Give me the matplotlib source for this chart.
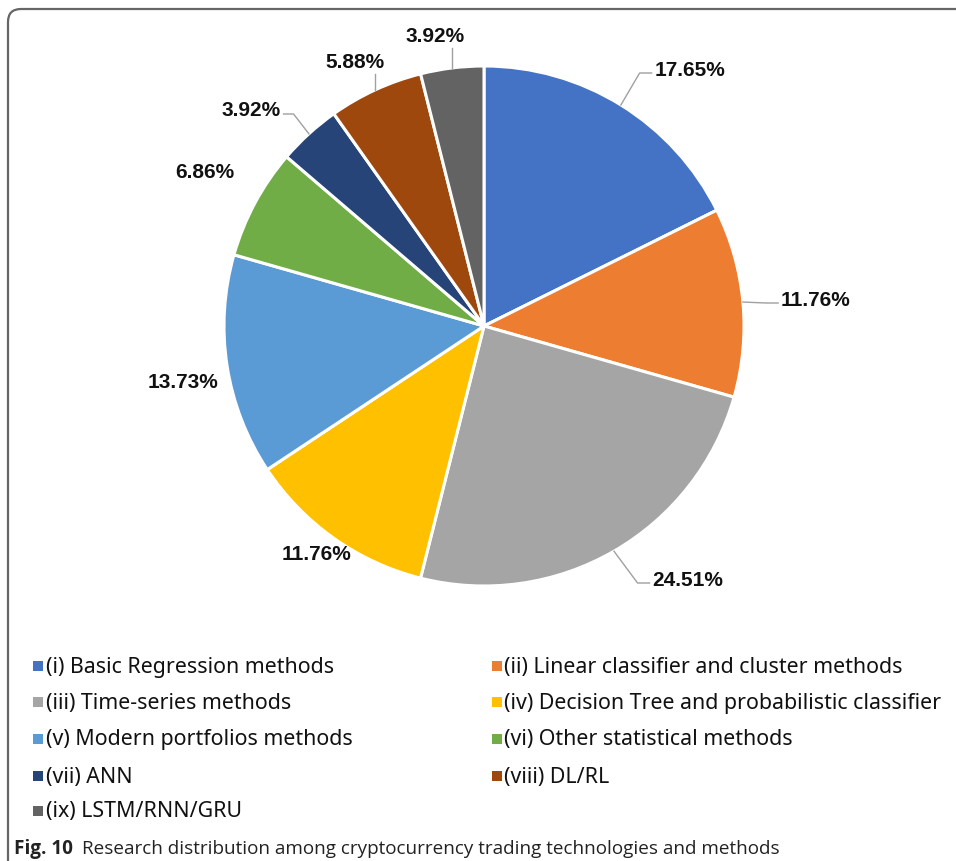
import matplotlib.pyplot as plt
from matplotlib.patches import FancyBboxPatch, Rectangle
import numpy as np

# data
methods = ['(i) Basic Regression methods', '(ii) Linear classifier and cluster methods',
           '(iii) Time-series methods', '(iv) Decision Tree and probabilistic classifier',
           '(v) Modern portfolios methods', '(vi) Other statistical methods',
           '(vii) ANN', '(viii) DL/RL', '(ix) LSTM/RNN/GRU']
shares = [17.65, 11.76, 24.51, 11.76, 13.73, 6.86, 3.92, 5.88, 3.92]
colours = ['#4472C4', '#ED7D31', '#A5A5A5', '#FFC000', '#5B9BD5',
           '#70AD47', '#264478', '#9E480E', '#636363']
caption_bold = 'Fig. 10'
caption_text = 'Research distribution among cryptocurrency trading technologies and methods'

# layout (pixels in the 956x862 picture)
W, H = 956, 862
CX, CY, R = 484, 327, 260
label_px = [(690, 70), (816, 300), (688, 580), (316, 555), (183, 382),
            (205, 173), (251, 111), (355, 63), (435, 37)]
leader = ['side', 'side', 'side', None, None, None, 'side', 'below', 'below']
legend_rows = [667, 703, 740, 777, 812]
legend_cols = [(38, 46), (497, 504)]


def to_data(px, py):
    return (px - CX) / R, (CY - py) / R


fig = plt.figure(figsize=(W / 100, H / 100), dpi=100)
ax = fig.add_axes([0, 0, 1, 1])

wedges, _ = ax.pie(shares, colors=colours, startangle=90, counterclock=False, radius=1,
                   wedgeprops=dict(edgecolor='white', linewidth=2.2))
ax.set_aspect('auto')
ax.set_xlim(to_data(0, 0)[0], to_data(W, 0)[0])
ax.set_ylim(to_data(0, H)[1], to_data(0, 0)[1])
ax.axis('off')

# frame round the figure
x0, y0 = to_data(8, 10)
x1, y1 = to_data(990, 880)
ax.add_patch(FancyBboxPatch((x0, y1), x1 - x0, y0 - y1, boxstyle='round,pad=0,rounding_size=0.05',
                            facecolor='none', edgecolor='#666666', linewidth=1.6, zorder=0))

# percentage labels
texts = []
for val, (px, py) in zip(shares, label_px):
    t = ax.text(*to_data(px, py), f'{val:.2f}%', ha='center', va='center', fontsize=15,
                fontweight='bold', family='Liberation Sans', color='#111111')
    texts.append(t)

fig.canvas.draw()
renderer = fig.canvas.get_renderer()
inv = ax.transData.inverted()

# leader lines, from the wedge edge to the label
for w, t, kind in zip(wedges, texts, leader):
    if kind is None:
        continue
    mid = np.deg2rad((w.theta1 + w.theta2) / 2)
    ex, ey = np.cos(mid), np.sin(mid)
    bb = t.get_window_extent(renderer)
    if kind == 'side':
        ycen = (bb.y0 + bb.y1) / 2 - 4
        if t.get_position()[0] > 0:
            ax_, el = bb.x0 - 3, bb.x0 - 15
        else:
            ax_, el = bb.x1 + 3, bb.x1 + 13
        (axd, ayd) = inv.transform((ax_, ycen))
        (eld, _) = inv.transform((el, ycen))
        ax.plot([ex, eld, axd], [ey, ayd, ayd], color='#a0a0a0', lw=1, zorder=3)
    else:
        exd = ax.transData.transform((ex, ey))
        xx = np.clip(exd[0], bb.x0 + 6, bb.x1 - 6)
        (bx, by) = inv.transform((xx, bb.y0 - 2))
        ax.plot([ex, bx], [ey, by], color='#a0a0a0', lw=1, zorder=3)

# legend, two columns
for i, (name, col) in enumerate(zip(methods, colours)):
    row, c = i // 2, i % 2
    mx, tx = legend_cols[c]
    py = legend_rows[row]
    sx, sy = to_data(mx - 5, py + 5)
    ax.add_patch(Rectangle((sx, sy), 10 / R, 10 / R, facecolor=col, edgecolor='none'))
    ax.text(*to_data(tx, py), name, ha='left', va='center', fontsize=15.4,
            family='Noto Sans', color='#111111')

# caption
cb = fig.text(14 / W, 1 - 849 / H, caption_bold, ha='left', va='center', fontsize=13.6,
              fontweight='bold', family='Open Sans', color='#222222')
fig.canvas.draw()
bb = cb.get_window_extent(fig.canvas.get_renderer())
fig.text((bb.x1 + 9) / W, 1 - 849 / H, caption_text, ha='left', va='center', fontsize=13.6,
         family='Open Sans', color='#222222')

plt.savefig('out.png', dpi=100)
